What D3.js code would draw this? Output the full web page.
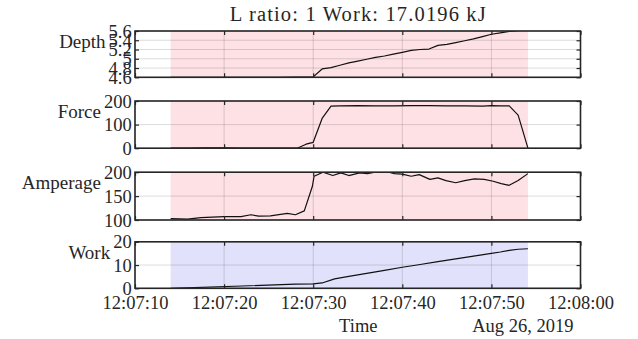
<!DOCTYPE html>
<html>
<head>
<meta charset="utf-8">
<script src="https://cdn.jsdelivr.net/npm/d3@7"></script>
<style>
  body { margin: 0; background: #fff; }
  svg { display: block; }
  text { font-family: "Liberation Serif", "Times New Roman", serif !important; fill: #262626; }
</style>
</head>
<body>
<svg id="chart" width="638" height="339"></svg>
<script>
// ---- data (seconds after 12:07:00 on 2019-08-26) ----
const lRatio = 1;
const workTotal = 17.0196; // kJ
const xTickSeconds = [10, 20, 30, 40, 50, 60];
const activeWindow = [14, 54.1];

const depthTime   = [14, 20, 26, 28, 29, 30, 31, 32, 33, 34, 35, 36, 37, 38, 39, 40, 41, 42, 43, 44, 45, 46, 47, 48, 49, 50, 51, 52, 53, 54.1];
const depthValues = [4.600, 4.600, 4.600, 4.602, 4.604, 4.610, 4.780, 4.810, 4.860, 4.910, 4.950, 4.990, 5.030, 5.060, 5.100, 5.140, 5.180, 5.200, 5.210, 5.290, 5.310, 5.350, 5.390, 5.430, 5.480, 5.530, 5.560, 5.590, 5.610, 5.630];
const depthTicks  = [4.6, 4.8, 5, 5.2, 5.4, 5.6];

const forceTime   = [14, 16, 18, 20, 22, 24, 26, 27, 28.2, 29.2, 30, 31, 32, 33, 35, 37, 39, 41, 43, 45, 47, 49, 50, 51, 52, 53, 54.1];
const forceValues = [0, 0, 1, 1, 0, 0, 0, 0, 0, 17, 25, 126, 178, 179, 180, 179, 179, 180, 180, 179, 179, 178, 180, 179, 179, 140, 0];
const forceTicks  = [0, 100, 200];

const ampTime   = [14, 15.9, 17.4, 20, 21.9, 23, 23.9, 25.2, 27.1, 28, 29, 29.9, 30.1, 31.1, 32.2, 33.1, 34, 35.2, 36.1, 37.2, 38.3, 39.1, 40, 41, 41.9, 43.1, 44, 44.9, 46, 47, 48.1, 49.2, 50.2, 51.1, 52, 53, 54.1];
const ampValues = [102.8, 102, 105, 107, 107, 111, 108, 108.6, 114, 111, 119, 170, 191.5, 200, 193, 198.6, 193, 198.6, 197, 201, 201, 197, 196, 191.5, 195, 185, 188, 182.5, 178, 182.5, 186, 185, 181, 176, 172.5, 182.5, 197];
const ampTicks  = [100, 150, 200];

const workTime   = [14, 22, 28, 30, 31, 32.4, 34, 36, 38, 40, 42, 44, 46, 48, 50, 51, 52, 53, 54.1];
const workValues = [0, 1.0, 1.8, 1.9, 2.3, 4.05, 5.1, 6.4, 7.7, 9.05, 10.25, 11.45, 12.65, 13.85, 15.0, 15.6, 16.3, 16.8, workTotal];
const workTicks  = [0, 10, 20];

// ---- helpers ----
const at = s => new Date(2019, 7, 26, 12, 7, 0, Math.round(s * 1000));
const serif = '"Liberation Serif", "Times New Roman", serif';

const svg = d3.select("#chart");
const left = 135, right = 580.5;
const x = d3.scaleTime().domain([at(10), at(60)]).range([left, right]);
const xTicks = xTickSeconds.map(at);

const pink = "#fde1e4", lilac = "#e1e1fb";
const frame = "#262626", gridColor = "rgba(0,0,0,0.14)";

const panels = [
  { label: "Depth",    time: depthTime, values: depthValues, ticks: depthTicks, domain: [4.6, 5.6], top: 31,    bottom: 77.3,  shade: pink },
  { label: "Force",    time: forceTime, values: forceValues, ticks: forceTicks, domain: [0, 200],   top: 101,   bottom: 148.2, shade: pink },
  { label: "Amperage", time: ampTime,   values: ampValues,   ticks: ampTicks,   domain: [100, 200], top: 172.2, bottom: 220,   shade: pink },
  { label: "Work",     time: workTime,  values: workValues,  ticks: workTicks,  domain: [0, 20],    top: 241.8, bottom: 288.3, shade: lilac }
];

// title
svg.append("text")
  .style("font-family", serif)
  .attr("x", (left + right) / 2)
  .attr("y", 20.7)
  .attr("text-anchor", "middle")
  .attr("font-size", 20.5)
  .attr("textLength", 256)
  .attr("lengthAdjust", "spacing")
  .text(`L ratio: ${lRatio} Work: ${workTotal} kJ`);

panels.forEach((p, i) => {
  const y = d3.scaleLinear().domain(p.domain).range([p.bottom, p.top]);
  const g = svg.append("g");
  const h = p.bottom - p.top;
  const isLast = i === panels.length - 1;

  // highlighted working window
  g.append("rect")
    .attr("x", x(at(activeWindow[0])))
    .attr("y", p.top)
    .attr("width", x(at(activeWindow[1])) - x(at(activeWindow[0])))
    .attr("height", h)
    .attr("fill", p.shade);

  // grid
  g.append("g").selectAll("line").data(xTicks).join("line")
    .attr("x1", d => x(d)).attr("x2", d => x(d))
    .attr("y1", p.top).attr("y2", p.bottom)
    .attr("stroke", gridColor).attr("stroke-width", 1);
  g.append("g").selectAll("line").data(p.ticks).join("line")
    .attr("x1", left).attr("x2", right)
    .attr("y1", d => y(d)).attr("y2", d => y(d))
    .attr("stroke", gridColor).attr("stroke-width", 1);

  // data line, clipped to the axes box
  const clipId = "clip" + i;
  svg.append("clipPath").attr("id", clipId).append("rect")
    .attr("x", left).attr("y", p.top).attr("width", right - left).attr("height", h);
  const line = d3.line().x((d, k) => x(at(p.time[k]))).y(d => y(d));
  g.append("path")
    .attr("clip-path", `url(#${clipId})`)
    .attr("d", line(p.values))
    .attr("fill", "none")
    .attr("stroke", "#111")
    .attr("stroke-width", 1.2)
    .attr("stroke-linejoin", "round");

  // inward ticks on all four sides
  const bottomAxis = g.append("g").attr("transform", `translate(0,${p.bottom})`)
    .call(d3.axisBottom(x).tickValues(xTicks).tickSize(-4).tickPadding(7.6)
      .tickFormat(isLast ? d3.timeFormat("%H:%M:%S") : () => ""));
  const topAxis = g.append("g").attr("transform", `translate(0,${p.top})`)
    .call(d3.axisTop(x).tickValues(xTicks).tickSize(-4).tickFormat(() => ""));
  const leftAxis = g.append("g").attr("transform", `translate(${left},0)`)
    .call(d3.axisLeft(y).tickValues(p.ticks).tickSize(-4).tickPadding(3.3).tickFormat(d3.format("~g")));
  const rightAxis = g.append("g").attr("transform", `translate(${right},0)`)
    .call(d3.axisRight(y).tickValues(p.ticks).tickSize(-4).tickFormat(() => ""));

  [bottomAxis, topAxis, leftAxis, rightAxis].forEach(a => {
    a.attr("font-family", serif);
    a.select(".domain").remove();
    a.selectAll(".tick line").attr("stroke", frame).attr("stroke-width", 1.2);
    a.selectAll("text").style("font-family", serif).attr("font-size", 18.5).attr("fill", frame);
  });
  leftAxis.selectAll("text").attr("dy", "0.33em");

  // axes box
  g.append("rect")
    .attr("x", left).attr("y", p.top)
    .attr("width", right - left).attr("height", h)
    .attr("fill", "none").attr("stroke", frame).attr("stroke-width", 1.6);

  // y label, left of the tick labels
  const tickBox = leftAxis.node().getBBox();
  g.append("text")
    .style("font-family", serif)
    .attr("x", left + tickBox.x - 3)
    .attr("y", p.top + 17.2)
    .attr("text-anchor", "end")
    .attr("font-size", 19)
    .text(p.label);

  if (isLast) {
    svg.append("text")
      .style("font-family", serif)
      .attr("x", 358.3).attr("y", 331.5)
      .attr("text-anchor", "middle").attr("font-size", 18.5)
      .text("Time");
    svg.append("text")
      .style("font-family", serif)
      .attr("x", 573.5).attr("y", 331.5)
      .attr("text-anchor", "end").attr("font-size", 18.5)
      .text(d3.timeFormat("%b %-d, %Y")(at(10)));
  }
});
</script>
</body>
</html>
